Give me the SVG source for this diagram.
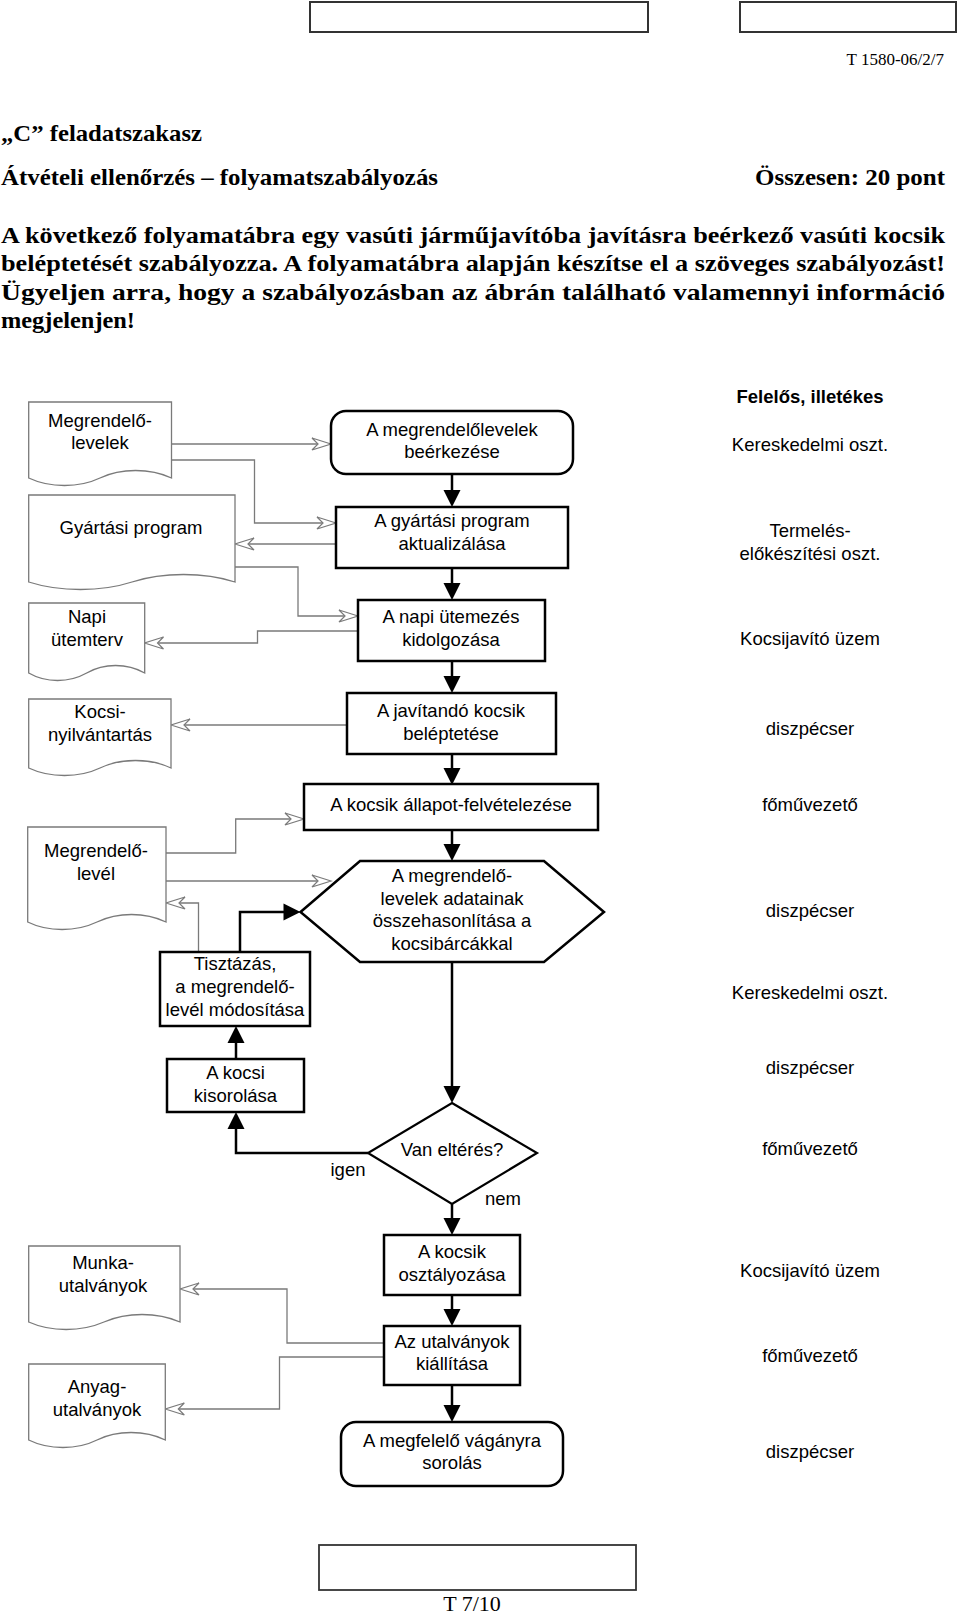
<svg xmlns="http://www.w3.org/2000/svg" width="960" height="1616" viewBox="0 0 960 1616">
<style>
.serif{font-family:"Liberation Serif","Times New Roman",serif;fill:#000}
.b{font-weight:bold}
.t{font-family:"Liberation Sans",Arial,sans-serif;font-size:18.5px;fill:#000;text-anchor:middle}
.proc{fill:#fff;stroke:#000;stroke-width:2.5}
.doc{fill:#fff;stroke:#7a7a7a;stroke-width:1.3}
.hdr{fill:#fff;stroke:#333;stroke-width:2}
.flow{fill:none;stroke:#000;stroke-width:2.5;marker-end:url(#ah)}
.con{fill:none;stroke:#7a7a7a;stroke-width:1.3;marker-end:url(#oh)}
</style>
<defs>
<marker id="ah" markerUnits="userSpaceOnUse" viewBox="-10 -10 20 20" refX="0" refY="0" markerWidth="20" markerHeight="20" orient="auto" overflow="visible">
<path d="M8,0 L-9,-8.5 L-9,8.5 Z" fill="#000"/>
</marker>
<marker id="oh" markerUnits="userSpaceOnUse" viewBox="-10 -10 25 20" refX="0" refY="0" markerWidth="25" markerHeight="20" orient="auto" overflow="visible">
<path d="M13,0 L-6,-6 L0,0 L-6,6 Z" fill="#fff" stroke="#7a7a7a" stroke-width="1.2" stroke-linejoin="miter"/>
</marker>
</defs>
<rect width="960" height="1616" fill="#fff"/>

<g id="header">
<rect class="hdr" x="310" y="2" width="338" height="30"/>
<rect class="hdr" x="740" y="2" width="216" height="30"/>
<text class="serif" x="944" y="65" font-size="17" text-anchor="end">T 1580-06/2/7</text>
<text class="serif b" x="1" y="141" font-size="23" textLength="201" lengthAdjust="spacingAndGlyphs">„C” feladatszakasz</text>
<text class="serif b" x="1" y="185" font-size="23" textLength="437" lengthAdjust="spacingAndGlyphs">Átvételi ellenőrzés – folyamatszabályozás</text>
<text class="serif b" x="755" y="185" font-size="23" textLength="190" lengthAdjust="spacingAndGlyphs">Összesen: 20 pont</text>
<text class="serif b" x="1" y="243" font-size="23" textLength="944" lengthAdjust="spacingAndGlyphs">A következő folyamatábra egy vasúti járműjavítóba javításra beérkező vasúti kocsik</text>
<text class="serif b" x="1" y="271" font-size="23" textLength="944" lengthAdjust="spacingAndGlyphs">beléptetését szabályozza. A folyamatábra alapján készítse el a szöveges szabályozást!</text>
<text class="serif b" x="1" y="300" font-size="23" textLength="944" lengthAdjust="spacingAndGlyphs">Ügyeljen arra, hogy a szabályozásban az ábrán található valamennyi információ</text>
<text class="serif b" x="1" y="328" font-size="23" textLength="134" lengthAdjust="spacingAndGlyphs">megjelenjen!</text>
</g>

<g id="connectors">
<path class="flow" d="M452,474 V499"/>
<path class="flow" d="M452,568 V592"/>
<path class="flow" d="M452,661 V685"/>
<path class="flow" d="M452,754 V777"/>
<path class="flow" d="M452,830 V853"/>
<path class="flow" d="M452,962 V1095"/>
<path class="flow" d="M452,1204 V1227"/>
<path class="flow" d="M452,1295 V1318"/>
<path class="flow" d="M452,1385 V1414"/>
<path class="flow" d="M240,952 V912 H292.5"/>
<path class="flow" d="M236,1059 V1034"/>
<path class="flow" d="M368,1153 H236 V1120"/>
<path class="con" d="M171.5,444 H318"/>
<path class="con" d="M171.5,460 H254.5 V523 H323"/>
<path class="con" d="M336,544 H248"/>
<path class="con" d="M235,567 H298 V616 H345"/>
<path class="con" d="M358,631 H257.5 V643 H157.5"/>
<path class="con" d="M347,725 H184"/>
<path class="con" d="M166,853 H235.7 V819 H291"/>
<path class="con" d="M166,881 H318"/>
<path class="con" d="M198.5,952 V903 H179"/>
<path class="con" d="M384,1343 H287 V1289 H193"/>
<path class="con" d="M384,1357 H279.5 V1409 H178.3"/>
</g>

<g id="doc-megrendelolevelek">
<path class="doc" d="M28.7,402 H171.5 V478 C150,468 121,468 100,478 C79,488 50,488 28.7,478 Z"/>
<text class="t" x="100" y="427">Megrendelő-</text>
<text class="t" x="100" y="449">levelek</text>
</g>
<g id="doc-gyartasi-program">
<path class="doc" d="M28.7,495 H235 V582 C204,572 163,572 132,582 C101,592 60,592 28.7,582 Z"/>
<text class="t" x="131" y="534">Gyártási program</text>
</g>
<g id="doc-napi-utemterv">
<path class="doc" d="M28.7,603 H144.7 V673 C127,663 104,663 86.7,673 C69,683 46,683 28.7,673 Z"/>
<text class="t" x="87" y="623">Napi</text>
<text class="t" x="87" y="646">ütemterv</text>
</g>
<g id="doc-kocsinyilvantartas">
<path class="doc" d="M28.7,699 H171 V768 C150,758 121,758 100,768 C79,778 50,778 28.7,768 Z"/>
<text class="t" x="100" y="718">Kocsi-</text>
<text class="t" x="100" y="741">nyilvántartás</text>
</g>
<g id="doc-megrendelolevel">
<path class="doc" d="M27.7,827 H166 V922 C145,912 118,912 97,922 C76,932 48,932 27.7,922 Z"/>
<text class="t" x="96" y="857">Megrendelő-</text>
<text class="t" x="96" y="880">levél</text>
</g>
<g id="doc-munkautalvanyok">
<path class="doc" d="M28.7,1246 H180 V1322 C157,1312 127,1312 104,1322 C81,1332 51,1332 28.7,1322 Z"/>
<text class="t" x="103" y="1269">Munka-</text>
<text class="t" x="103" y="1292">utalványok</text>
</g>
<g id="doc-anyagutalvanyok">
<path class="doc" d="M28.7,1364 H165.3 V1440 C145,1430 117,1430 97,1440 C77,1450 49,1450 28.7,1440 Z"/>
<text class="t" x="97" y="1393">Anyag-</text>
<text class="t" x="97" y="1416">utalványok</text>
</g>

<g id="n-beerkezes">
<rect class="proc" x="331" y="411" width="242" height="63" rx="15"/>
<text class="t" x="452" y="436">A megrendelőlevelek</text>
<text class="t" x="452" y="458">beérkezése</text>
</g>
<g id="n-aktualizalas">
<rect class="proc" x="336" y="507" width="232" height="61"/>
<text class="t" x="452" y="527">A gyártási program</text>
<text class="t" x="452" y="550">aktualizálása</text>
</g>
<g id="n-utemezes">
<rect class="proc" x="358" y="600" width="187" height="61"/>
<text class="t" x="451" y="623">A napi ütemezés</text>
<text class="t" x="451" y="646">kidolgozása</text>
</g>
<g id="n-beleptetes">
<rect class="proc" x="347" y="693" width="209" height="61"/>
<text class="t" x="451" y="717">A javítandó kocsik</text>
<text class="t" x="451" y="740">beléptetése</text>
</g>
<g id="n-allapot">
<rect class="proc" x="304" y="784" width="294" height="46"/>
<text class="t" x="451" y="811">A kocsik állapot-felvételezése</text>
</g>
<g id="n-osszehasonlitas">
<polygon class="proc" points="300.5,912 360,861 544,861 604,912 544,962 360,962"/>
<text class="t" x="452" y="882">A megrendelő-</text>
<text class="t" x="452" y="904.5">levelek adatainak</text>
<text class="t" x="452" y="927">összehasonlítása a</text>
<text class="t" x="452" y="949.5">kocsibárcákkal</text>
</g>
<g id="n-tisztazas">
<rect class="proc" x="160" y="952" width="150" height="74"/>
<text class="t" x="235" y="970">Tisztázás,</text>
<text class="t" x="235" y="993">a megrendelő-</text>
<text class="t" x="235" y="1016">levél módosítása</text>
</g>
<g id="n-kisorolas">
<rect class="proc" x="167" y="1059" width="137" height="53"/>
<text class="t" x="235.5" y="1079">A kocsi</text>
<text class="t" x="235.5" y="1102">kisorolása</text>
</g>
<g id="n-elteres">
<polygon class="proc" points="452,1103 537,1153 452,1204 368,1153" style="stroke-width:2.2"/>
<text class="t" x="452" y="1156">Van eltérés?</text>
<text class="t" x="348" y="1176">igen</text>
<text class="t" x="503" y="1205">nem</text>
</g>
<g id="n-osztalyozas">
<rect class="proc" x="384" y="1235" width="136" height="60"/>
<text class="t" x="452" y="1258">A kocsik</text>
<text class="t" x="452" y="1281">osztályozása</text>
</g>
<g id="n-utalvanyok">
<rect class="proc" x="384" y="1326" width="136" height="59"/>
<text class="t" x="452" y="1348">Az utalványok</text>
<text class="t" x="452" y="1370">kiállítása</text>
</g>
<g id="n-vagany">
<rect class="proc" x="341" y="1422" width="222" height="64" rx="15"/>
<text class="t" x="452" y="1447">A megfelelő vágányra</text>
<text class="t" x="452" y="1469">sorolás</text>
</g>

<g id="responsible">
<text class="t" x="810" y="403" font-weight="bold">Felelős, illetékes</text>
<text class="t" x="810" y="451">Kereskedelmi oszt.</text>
<text class="t" x="810" y="537">Termelés-</text>
<text class="t" x="810" y="560">előkészítési oszt.</text>
<text class="t" x="810" y="645">Kocsijavító üzem</text>
<text class="t" x="810" y="735">diszpécser</text>
<text class="t" x="810" y="811">főművezető</text>
<text class="t" x="810" y="917">diszpécser</text>
<text class="t" x="810" y="999">Kereskedelmi oszt.</text>
<text class="t" x="810" y="1074">diszpécser</text>
<text class="t" x="810" y="1155">főművezető</text>
<text class="t" x="810" y="1277">Kocsijavító üzem</text>
<text class="t" x="810" y="1362">főművezető</text>
<text class="t" x="810" y="1458">diszpécser</text>
</g>

<g id="footer">
<rect x="319" y="1545" width="317" height="45" fill="#fff" stroke="#333" stroke-width="1.8"/>
<text class="serif" x="472" y="1611" font-size="22" text-anchor="middle">T 7/10</text>
</g>
</svg>
